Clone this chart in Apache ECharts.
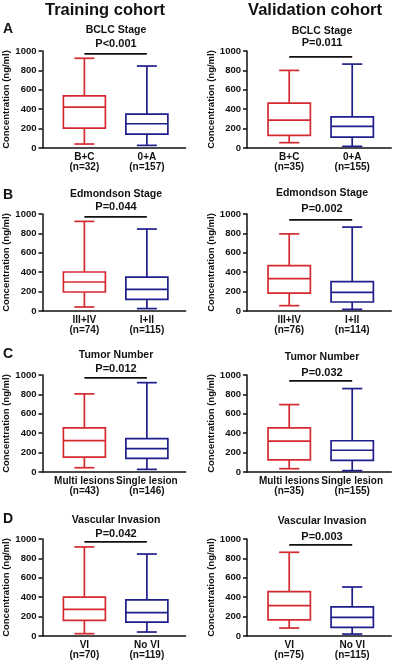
<!DOCTYPE html>
<html><head><meta charset="utf-8">
<script src="https://cdn.jsdelivr.net/npm/echarts@6/dist/echarts.min.js"></script>
<style>html,body{margin:0;padding:0;background:#fff}#c{width:393px;height:664px}</style>
</head><body><div id="c"></div>
<script>
// ---------- DATA ----------
const cohortTitles = ['Training cohort', 'Validation cohort'];
const panelLetters = ['A', 'B', 'C', 'D'];
const factorTitles = ['BCLC Stage', 'Edmondson Stage', 'Tumor Number', 'Vascular Invasion'];
const groupLabels = [['B+C', '0+A'], ['III+IV', 'I+II'], ['Multi lesions', 'Single lesion'], ['VI', 'No VI']];
const trainCounts = [[32, 157], [74, 115], [43, 146], [70, 119]];
const validCounts = [[35, 155], [76, 114], [35, 155], [75, 115]];
const trainP = ['P<0.001', 'P=0.044', 'P=0.012', 'P=0.042'];
const validP = ['P=0.011', 'P=0.002', 'P=0.032', 'P=0.003'];
// each box: [min, Q1, median, Q3, max]  (ng/ml)
const trainBCLC = [[41, 205, 421, 538, 925], [27, 144, 250, 349, 845]];
const trainEdmondson = [[41, 196, 299, 402, 924], [25, 120, 223, 350, 845]];
const trainTumor = [[44, 154, 324, 454, 805], [27, 140, 242, 345, 921]];
const trainVascular = [[24, 161, 274, 401, 918], [41, 144, 240, 373, 845]];
const validBCLC = [[55, 131, 287, 463, 800], [17, 113, 222, 320, 865]];
const validEdmondson = [[55, 185, 333, 468, 795], [17, 93, 192, 303, 865]];
const validTumor = [[34, 125, 319, 454, 695], [14, 119, 224, 322, 860]];
const validVascular = [[82, 167, 314, 457, 863], [20, 89, 191, 300, 505]];
const yTicks = [0, 200, 400, 600, 800, 1000];

// ---------- LAYOUT / STYLE ----------
const FONT = '"Liberation Sans", Arial, sans-serif';
const boxColors = ['#d42a30', '#1e1e8c'];
const ink = '#111';
const colLeft = [42.5, 247];
const colScale = [62.5, 63];
const xMin = -0.67, xMax = 1.62;
const rowTop = [51, 214, 375, 539];
const rowH = 97;
const subY = [[30.5, 31], [194, 193], [355, 357], [520, 521]];
const pY = [[44, 43], [207, 209], [369, 373], [534, 537]];
const subX = [116, 322];
const barAt = [970, 940];
const letterY = [29, 195, 354, 519];

const trainStats = [trainBCLC, trainEdmondson, trainTumor, trainVascular];
const validStats = [validBCLC, validEdmondson, validTumor, validVascular];

const grids = [], xAxes = [], yAxes = [], series = [], graphics = [];

graphics.push({type: 'text', x: 105, y: 10, style: {text: cohortTitles[0], font: 'bold 16.5px ' + FONT, fill: ink, align: 'center', verticalAlign: 'middle'}});
graphics.push({type: 'text', x: 315, y: 10, style: {text: cohortTitles[1], font: 'bold 16.5px ' + FONT, fill: ink, align: 'center', verticalAlign: 'middle'}});

for (let r = 0; r < 4; r++) {
  graphics.push({type: 'text', x: 8, y: letterY[r], style: {text: panelLetters[r], font: 'bold 14px ' + FONT, fill: ink, align: 'center', verticalAlign: 'middle'}});
  for (let c = 0; c < 2; c++) {
    const i = r * 2 + c;
    const labels = groupLabels[r];
    const counts = c === 0 ? trainCounts[r] : validCounts[r];
    const stats = c === 0 ? trainStats[r] : validStats[r];
    const pText = c === 0 ? trainP[r] : validP[r];
    const bar = barAt[c];
    grids.push({left: colLeft[c], top: rowTop[r], width: colScale[c] * (xMax - xMin), height: rowH});
    xAxes.push({
      gridIndex: i, type: 'value', min: xMin, max: xMax,
      axisLine: {show: true, onZero: false, lineStyle: {color: ink, width: 1.5}},
      axisTick: {show: false}, splitLine: {show: false},
      axisLabel: {
        customValues: [0, 1], margin: 4,
        formatter: v => labels[Math.round(v)] + '\n(n=' + counts[Math.round(v)] + ')',
        fontFamily: FONT, fontWeight: 'bold', fontSize: 10, lineHeight: 10, color: ink
      }
    });
    yAxes.push({
      gridIndex: i, type: 'value', min: yTicks[0], max: yTicks[yTicks.length - 1], interval: yTicks[1] - yTicks[0],
      axisLine: {show: true, onZero: false, lineStyle: {color: ink, width: 1.5}},
      axisTick: {show: true, length: 4, lineStyle: {color: ink, width: 1.5}},
      splitLine: {show: false},
      axisLabel: {margin: 6, formatter: v => String(v), fontFamily: FONT, fontWeight: 'bold', fontSize: 9.5, color: ink},
      name: 'Concentration (ng/ml)', nameLocation: 'middle', nameGap: 27,
      nameTextStyle: {fontFamily: FONT, fontWeight: 'bold', fontSize: 9.5, color: ink}
    });
    series.push({
      type: 'custom', xAxisIndex: i, yAxisIndex: i, silent: true, clip: false,
      encode: {x: 0, y: [1, 2, 3, 4, 5]},
      data: stats.map((s, k) => [k].concat(s)),
      renderItem: (params, api) => {
        const k = api.value(0);
        const col = boxColors[k];
        const unit = api.size([1, 0])[0];
        const hw = unit * 0.336, cw = unit * 0.16;
        const py = v => api.coord([k, v])[1];
        const cx = api.coord([k, 0])[0];
        const yMin = py(api.value(1)), yQ1 = py(api.value(2)), yMed = py(api.value(3)), yQ3 = py(api.value(4)), yMax = py(api.value(5));
        const st = {stroke: col, lineWidth: 1.7, fill: 'none'};
        const line = (x1, y1, x2, y2, s) => ({type: 'line', shape: {x1, y1, x2, y2}, style: s || st});
        const children = [
          {type: 'rect', shape: {x: cx - hw, y: yQ3, width: hw * 2, height: yQ1 - yQ3}, style: st},
          line(cx - hw, yMed, cx + hw, yMed),
          line(cx, yQ3, cx, yMax),
          line(cx, yQ1, cx, yMin),
          line(cx - cw, yMax, cx + cw, yMax),
          line(cx - cw, yMin, cx + cw, yMin)
        ];
        if (params.dataIndex === 0) {
          const a = api.coord([0, bar]), b = api.coord([1, bar]);
          children.push(line(a[0], a[1], b[0], b[1], {stroke: ink, lineWidth: 1.7}));
        }
        return {type: 'group', children};
      }
    });
    graphics.push({type: 'text', x: subX[c], y: subY[r][c], style: {text: factorTitles[r], font: 'bold 10.5px ' + FONT, fill: ink, align: 'center', verticalAlign: 'middle'}});
    graphics.push({type: 'text', x: subX[c], y: pY[r][c], style: {text: pText, font: 'bold 11px ' + FONT, fill: ink, align: 'center', verticalAlign: 'middle'}});
  }
}

const chart = echarts.init(document.getElementById('c'), null, {renderer: 'canvas'});
chart.setOption({
  backgroundColor: '#fff', animation: false,
  grid: grids, xAxis: xAxes, yAxis: yAxes, series, graphic: graphics
});
</script></body></html>
